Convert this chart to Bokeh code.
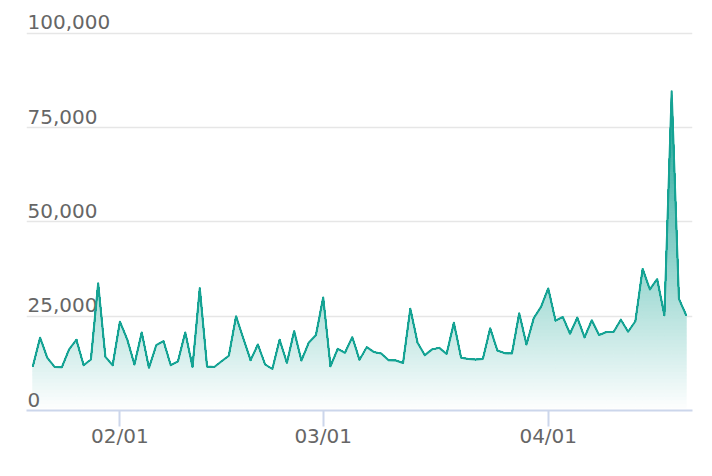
import numpy as np
import pandas as pd
from bokeh.plotting import figure
from bokeh.models import Range1d, FixedTicker, DatetimeTickFormatter, Grid
from bokeh.core.properties import value
from bokeh.embed import file_html
from bokeh.resources import INLINE

# ---- data ----
start_date = "2025-01-20"
visits = [
    11700, 19300, 13950, 11550, 11470, 16200, 18750, 12000, 13500, 33700, 14200, 12000,   # Jan 20-31
    23550, 18850, 12200, 20700, 11300, 17300, 18400, 12000, 13050, 20700, 11550, 32450,   # Feb 1-12
    11650, 11550, 13050, 14500, 25000, 19100, 13350, 17500, 12200, 11000, 18750, 12600,   # Feb 13-24
    21050, 13250, 17950, 20000,                                                           # Feb 25-28
    29950, 11730, 16350, 15300, 19470, 13420, 16800, 15470, 15100, 13350, 13250, 12600,   # Mar 1-12
    27000, 17950, 14670, 16200, 16600, 15000, 23280, 13950, 13680, 13500, 13680, 21780,   # Mar 13-24
    15900, 15200, 15100, 25780, 17500, 24450, 27470,                                      # Mar 25-31
    32350, 23820, 24800, 20350, 24620, 19390, 23920, 20000, 20800, 20800, 24080, 20880,   # Apr 1-12
    23650, 37520, 32090, 34850, 25250, 84620, 29600, 25250,                               # Apr 13-20
]
xtick_dates = ["2025-02-01", "2025-03-01", "2025-04-01"]
ytick_values = [0, 25000, 50000, 75000, 100000]
ytick_labels = ["0", "25,000", "50,000", "75,000", "100,000"]

# ---- style ----
TEAL = (22, 163, 148)
LINE_COLOR = "#16a394"
FONT = "DejaVu Sans"

dates = pd.date_range(start_date, periods=len(visits), freq="D")
x_ms = (dates.values.astype("datetime64[ms]").astype(np.int64)).astype(float)
DAY = 86400000.0
y = np.array(visits, dtype=float)

p = figure(width=696, height=460, output_backend="svg", toolbar_location=None,
           x_axis_type="datetime", y_axis_location=None,
           x_range=Range1d(x_ms[0] - 0.87 * DAY, x_ms[-1] + 0.87 * DAY),
           y_range=Range1d(0, 105500),
           min_border_left=26, min_border_right=4, min_border_top=12, min_border_bottom=50)
p.outline_line_color = None
for g in p.grid:
    g.visible = False
p.background_fill_color = "white"
p.border_fill_color = "white"

p.add_layout(Grid(dimension=1, ticker=FixedTicker(ticks=ytick_values),
                  grid_line_color="#e6e6e6", grid_line_width=1.5))

# gradient fill built from horizontal bands clipped by the data line
def clip_line(xs, ys, level):
    ox = [xs[0]]
    oy = [min(ys[0], level)]
    for i in range(1, len(xs)):
        y0, y1 = ys[i - 1], ys[i]
        if (y0 - level) * (y1 - level) < 0:
            t = (level - y0) / (y1 - y0)
            ox.append(xs[i - 1] + t * (xs[i] - xs[i - 1]))
            oy.append(level)
        ox.append(xs[i])
        oy.append(min(y1, level))
    return ox, oy

vmax = y.max()
nb = 90
levels = np.linspace(0, vmax, nb + 1)
band_xs, band_ys, band_cols = [], [], []
for k in range(nb):
    lo, hi = levels[k], levels[k + 1]
    ux, uy = clip_line(x_ms, y, hi)
    lx, ly = clip_line(x_ms, y, lo)
    band_xs.append(ux + lx[::-1])
    band_ys.append(uy + ly[::-1])
    t = (lo + hi) / 2 / vmax
    r, g, b = [int(round(255 * (1 - t) + c * t)) for c in TEAL]
    band_cols.append("#%02x%02x%02x" % (r, g, b))

p.patches(band_xs, band_ys, fill_color=band_cols, line_color=band_cols, line_width=1)

# y labels drawn inside the plot, above the grid lines
p.text(x=[x_ms[0] - 0.87 * DAY] * len(ytick_values), y=ytick_values, text=ytick_labels,
       text_font=value(FONT), text_font_size="20px", text_color="#666666",
       text_baseline="alphabetic", text_align="left", x_offset=1, y_offset=-11)

p.line(x_ms, y, line_color=LINE_COLOR, line_width=2, line_join="round")

xt = [float(pd.Timestamp(d).value // 10**6) for d in xtick_dates]
ax = p.xaxis[0]
ax.ticker = FixedTicker(ticks=xt)
ax.formatter = DatetimeTickFormatter(days="%m/%d", months="%m/%d", years="%m/%d",
                                     hours="%m/%d", minutes="%m/%d")
ax.axis_line_color = "#ccd6eb"
ax.axis_line_width = 2
ax.major_tick_line_color = "#ccd6eb"
ax.major_tick_line_width = 2
ax.major_tick_out = 16
ax.major_tick_in = 0
ax.minor_tick_line_color = None
ax.major_label_standoff = -3
ax.major_label_text_font = FONT
ax.major_label_text_font_size = "20px"
ax.major_label_text_color = "#666666"

open("out.html", "w").write(file_html(p, INLINE))
